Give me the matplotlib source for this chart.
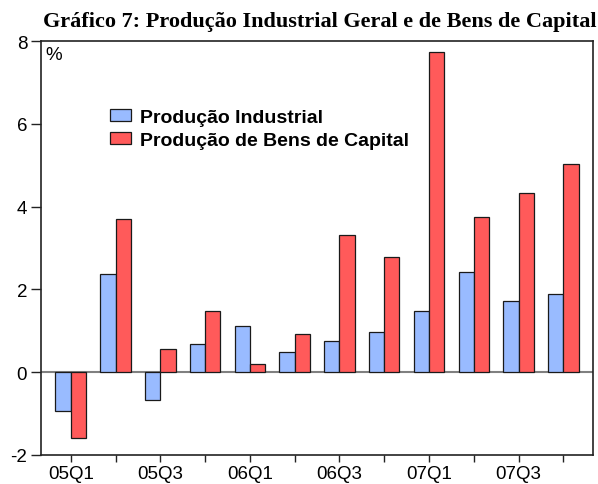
import matplotlib
matplotlib.use("Agg")
import matplotlib.pyplot as plt
import numpy as np

quarters = ["05Q1", "05Q2", "05Q3", "05Q4", "06Q1", "06Q2", "06Q3", "06Q4",
            "07Q1", "07Q2", "07Q3", "07Q4"]
prod_industrial = [-0.94, 2.38, -0.68, 0.68, 1.11, 0.48, 0.75, 0.98, 1.47, 2.42, 1.72, 1.90]
prod_bens_capital = [-1.60, 3.71, 0.56, 1.49, 0.21, 0.92, 3.31, 2.79, 7.73, 3.74, 4.33, 5.04]
yticks = [-2, 0, 2, 4, 6, 8]

fig = plt.figure(figsize=(5.98, 4.85), dpi=100)
ax = fig.add_axes([0.0686, 0.0598, 0.923, 0.8536])

x = np.arange(len(quarters))
w = 0.34
ax.bar(x - w / 2, prod_industrial, w, color="#99BBFF", edgecolor="#1a1a1a", linewidth=0.9,
       label="Produção Industrial", zorder=3)
ax.bar(x + w / 2, prod_bens_capital, w, color="#FF5A5A", edgecolor="#1a1a1a", linewidth=0.9,
       label="Produção de Bens de Capital", zorder=3)
ax.axhline(0, color="#808080", linewidth=1.5, zorder=2)

ax.set_xlim(-0.663, 11.66)
ax.set_ylim(-2, 8)
ax.set_yticks(yticks)
ax.set_yticklabels([str(t) for t in yticks], fontsize=13.5, family="Liberation Sans")
ax.set_xticks(x[::2])
ax.set_xticklabels(quarters[::2], fontsize=13.5, family="Liberation Sans")
ax.set_xticks(x[1::2], minor=True)
ax.tick_params(axis="y", which="both", direction="out", length=7, width=1, colors="#222222",
               labelcolor="black", pad=3)
ax.tick_params(axis="x", which="both", direction="out", length=5, width=1, colors="#222222",
               labelcolor="black", pad=2.5)
for s in ax.spines.values():
    s.set_linewidth(1.2)
    s.set_color("#222222")

ax.text(0.008, 0.988, "%", transform=ax.transAxes, ha="left", va="top", fontsize=13.5,
        family="Liberation Sans")

leg = ax.legend(loc="upper left", bbox_to_anchor=(0.125, 0.836), frameon=False,
                prop={"family": "Liberation Sans", "weight": "bold", "size": 14},
                handlelength=1.1, handleheight=0.6, handletextpad=0.45, labelspacing=0.3,
                borderaxespad=0, borderpad=0)

fig.text(0.535, 0.955, "Gráfico 7: Produção Industrial Geral e de Bens de Capital",
         ha="center", va="center", fontsize=16, fontweight="bold", family="Liberation Serif")

fig.savefig("out.png", dpi=100)
